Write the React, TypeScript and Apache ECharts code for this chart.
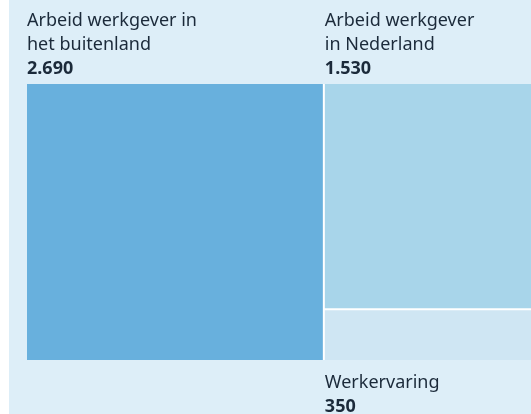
import React, { useEffect, useRef } from "react";
import * as echarts from "echarts";

const categories = [
  "Arbeid werkgever in\nhet buitenland",
  "Arbeid werkgever\nin Nederland",
  "Werkervaring",
];
const values = [2690, 1530, 350];
const colors = ["#68b0dd", "#a8d5ea", "#cfe6f3"];
const labelSides = ["top", "top", "bottom"];

const fmt = (v: number) => String(v).replace(/\B(?=(\d{3})+(?!\d))/g, ".");

export default function App() {
  const ref = useRef<HTMLDivElement>(null);
  useEffect(() => {
    if (!ref.current) return;
    const chart = echarts.init(ref.current, null, { renderer: "svg" });
    const font = "'Noto Sans', sans-serif";
    const rich = {
      a: { fontSize: 18, lineHeight: 24, color: "#1b2a3a", fontFamily: font },
      b: { fontSize: 18, lineHeight: 24, color: "#1b2a3a", fontFamily: font, fontWeight: "bold" as const },
    };
    chart.setOption({
      animation: false,
      graphic: [
        {
          type: "rect",
          left: 9,
          top: 0,
          shape: { width: 522, height: 414 },
          style: { fill: "#ddeef8" },
          z: -10,
        },
      ],
      series: [
        {
          type: "treemap",
          left: 27,
          top: 84,
          width: 504,
          height: 276,
          roam: false,
          nodeClick: false,
          breadcrumb: { show: false },
          silent: true,
          levels: [
            { itemStyle: { gapWidth: 2, borderWidth: 0, borderColor: "#ffffff" } },
            { itemStyle: { borderWidth: 0, gapWidth: 0 } },
          ],
          data: categories.map((name, i) => ({
            name,
            value: values[i],
            itemStyle: { color: colors[i], borderWidth: 0 },
            label: {
              show: true,
              position: labelSides[i] === "top" ? [0, -77] : [0, "100%"],
              padding: labelSides[i] === "top" ? 0 : [9, 0, -60, 0],
              formatter: () =>
                name
                  .split("\n")
                  .map((l) => `{a|${l}}`)
                  .join("\n") + `\n{b|${fmt(values[i])}}`,
              rich,
              overflow: "none",
            },
          })),
        },
      ],
    });
    return () => chart.dispose();
  }, []);
  return (
    <div
      ref={ref}
      style={{ position: "fixed", left: 0, top: 0, width: 531, height: 414 }}
    />
  );
}
